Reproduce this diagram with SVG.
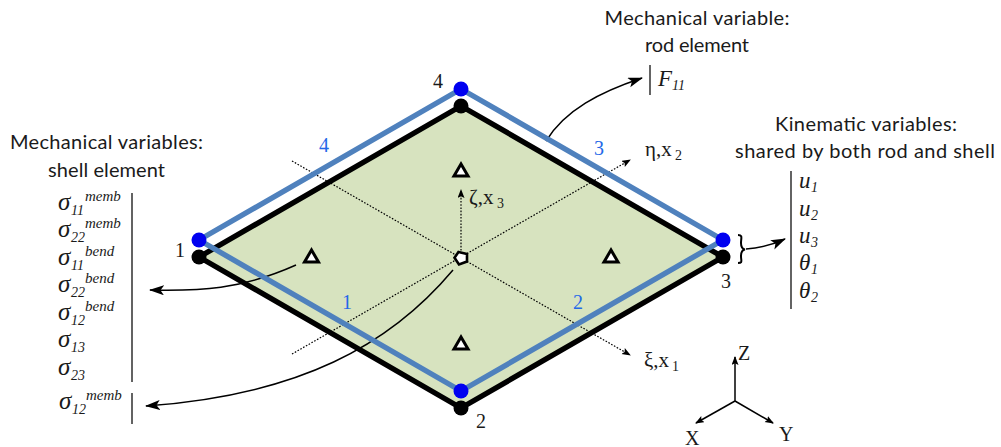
<svg xmlns="http://www.w3.org/2000/svg" width="1001" height="447" viewBox="0 0 1001 447">
<style>
text{fill:#1a1a1a}
.h{font-family:"Lato","Open Sans",sans-serif;font-size:20px;text-anchor:middle}
.n{font-family:"Liberation Serif",serif;font-size:20px}
.b{fill:#2468e8}
.m{font-family:"Liberation Serif",serif;font-size:23px;font-style:italic}
.sg{font-family:"Liberation Serif",serif;font-size:25px;font-style:italic}
.g{font-family:"Liberation Serif",serif;font-size:21px}
.s{font-family:"Liberation Serif",serif;font-size:14px;font-style:italic}
.u{font-family:"Liberation Serif",serif;font-size:15px;font-style:italic}
.r{font-family:"Liberation Serif",serif;font-size:14px}
.e{fill:none;stroke-linejoin:round;stroke-width:5.4}
.tri{fill:#fff;stroke:#000;stroke-width:3;stroke-linejoin:miter}
.dot{fill:none;stroke:#000;stroke-width:1.2;stroke-dasharray:1.6 1.6}
.ar{fill:none;stroke:#000;stroke-width:1.5}
.rule{stroke:#222;stroke-width:1.4;fill:none}
</style>
<defs>
<marker id="big" markerUnits="userSpaceOnUse" markerWidth="16" markerHeight="12" refX="14" refY="5" orient="auto"><path d="M0 0L15 5L0 10L3.5 5Z" fill="#000"/></marker>
<marker id="sm" markerUnits="userSpaceOnUse" markerWidth="10" markerHeight="8" refX="8" refY="3.5" orient="auto"><path d="M0 0L9 3.500L0 7L1.800 3.500Z" fill="#000"/></marker>
</defs>
<g id="shell-element">
<polygon points="199,257 461,106 723,257 461,408" fill="#d7e3bf"/>
<polygon class="e" points="199,257 461,106 723,257 461,408" stroke="#000"/>
</g>
<g id="connectors">
<path class="dot" d="M292 161L630 355" marker-end="url(#sm)"/>
<path class="dot" d="M292 354L630 160" marker-end="url(#sm)"/>
<path class="dot" d="M461 257L461 190" marker-end="url(#sm)"/>
<path class="ar" d="M296 265C240 290 200 291 150 290" marker-end="url(#big)"/>
<path class="ar" d="M453 270C390 345 300 395 146 406" marker-end="url(#big)"/>
<path class="ar" d="M546 141C565 110 600 92 642 78" marker-end="url(#big)"/>
<path class="ar" d="M746 249C760 248 772 245 785 239" marker-end="url(#big)"/>
<path class="ar" d="M735 401L735 357" marker-end="url(#sm)"/>
<path class="ar" d="M735 401L696 423" marker-end="url(#sm)"/>
<path class="ar" d="M735 401L773 423" marker-end="url(#sm)"/>
</g>
<g id="rod-element">
<polygon class="e" points="199,240 461,89 723,240 461,391" stroke="#4f81bd"/>
</g>
<g id="nodes">
<g id="node-1"><circle cx="199" cy="257" r="7.500"/><circle cx="199" cy="240" r="7.500" fill="#0000f0"/><text class="n" x="175" y="257">1</text></g>
<g id="node-2"><circle cx="461" cy="408" r="7.500"/><circle cx="461" cy="391" r="7.500" fill="#0000f0"/><text class="n" x="476" y="428">2</text></g>
<g id="node-3"><circle cx="723" cy="257" r="7.500"/><circle cx="723" cy="240" r="7.500" fill="#0000f0"/><text class="n" x="721" y="288">3</text></g>
<g id="node-4"><circle cx="461" cy="106" r="7.500"/><circle cx="461" cy="89" r="7.500" fill="#0000f0"/><text class="n" x="433" y="88">4</text></g>
</g>
<g id="edge-labels">
<text class="n b" x="342" y="309">1</text>
<text class="n b" x="573" y="309">2</text>
<text class="n b" x="594" y="155">3</text>
<text class="n b" x="319" y="152">4</text>
</g>
<g id="integration-points">
<polygon class="tri" points="311.500,250 304.500,262 318.500,262"/>
<polygon class="tri" points="461,164 454,176 468,176"/>
<polygon class="tri" points="611,250 604,262 618,262"/>
<polygon class="tri" points="461,337 454,349 468,349"/>
<polygon points="458.500,252 467,254 467,261.500 459,264.500 454.500,257.700" fill="#fff" stroke="#000" stroke-width="2.600"/>
</g>
<g id="axis-labels">
<text class="g" x="644" y="367">ξ,x</text><text class="r" x="672" y="371">1</text>
<text class="g" x="645" y="156">η,x</text><text class="r" x="675" y="160">2</text>
<text class="g" x="469" y="204">ζ,x</text><text class="r" x="497" y="208">3</text>
<text class="n" x="738" y="360">Z</text>
<text class="n" x="685" y="445">X</text>
<text class="n" x="779" y="441">Y</text>
</g>
<g id="shell-variables">
<text class="h" x="106.500" y="149" textLength="193">Mechanical variables:</text>
<text class="h" x="106.500" y="177" textLength="117">shell element</text>
<path class="rule" d="M132 193V382M132 393V424"/>
<text class="sg" x="58" y="210">σ</text><text class="s" x="71" y="215">11</text><text class="u" x="85" y="201">memb</text>
<text class="sg" x="58" y="237">σ</text><text class="s" x="71" y="242">22</text><text class="u" x="85" y="228">memb</text>
<text class="sg" x="58" y="265">σ</text><text class="s" x="71" y="270">11</text><text class="u" x="85" y="256">bend</text>
<text class="sg" x="58" y="292">σ</text><text class="s" x="71" y="297">22</text><text class="u" x="85" y="283">bend</text>
<text class="sg" x="58" y="320">σ</text><text class="s" x="71" y="325">12</text><text class="u" x="85" y="311">bend</text>
<text class="sg" x="58" y="347">σ</text><text class="s" x="71" y="352">13</text>
<text class="sg" x="58" y="375">σ</text><text class="s" x="71" y="380">23</text>
<text class="sg" x="59" y="409">σ</text><text class="s" x="72" y="414">12</text><text class="u" x="86" y="400">memb</text>
</g>
<g id="rod-variables">
<text class="h" x="697" y="25" textLength="185">Mechanical variable:</text>
<text class="h" x="697" y="52" textLength="104">rod element</text>
<path class="rule" d="M650 65V95"/>
<text class="m" x="658" y="86">F</text><text class="s" x="672" y="90">11</text>
</g>
<g id="kinematic-variables">
<text class="h" x="866" y="131" textLength="182">Kinematic variables:</text>
<text class="h" x="865" y="158" textLength="260">shared by both rod and shell</text>
<path d="M738 235C743 235 741 238 741 243C741 247 742 249 745 249.500C742 250 741 252 741 256C741 261 743 263 738 263" fill="none" stroke="#000" stroke-width="2"/>
<path class="rule" d="M791 171V309"/>
<text class="m" x="799" y="188">u</text><text class="s" x="811" y="192">1</text>
<text class="m" x="799" y="216">u</text><text class="s" x="811" y="220">2</text>
<text class="m" x="799" y="243">u</text><text class="s" x="811" y="247">3</text>
<text class="m" x="799" y="270">θ</text><text class="s" x="811" y="274">1</text>
<text class="m" x="799" y="298">θ</text><text class="s" x="811" y="302">2</text>
</g>
</svg>
